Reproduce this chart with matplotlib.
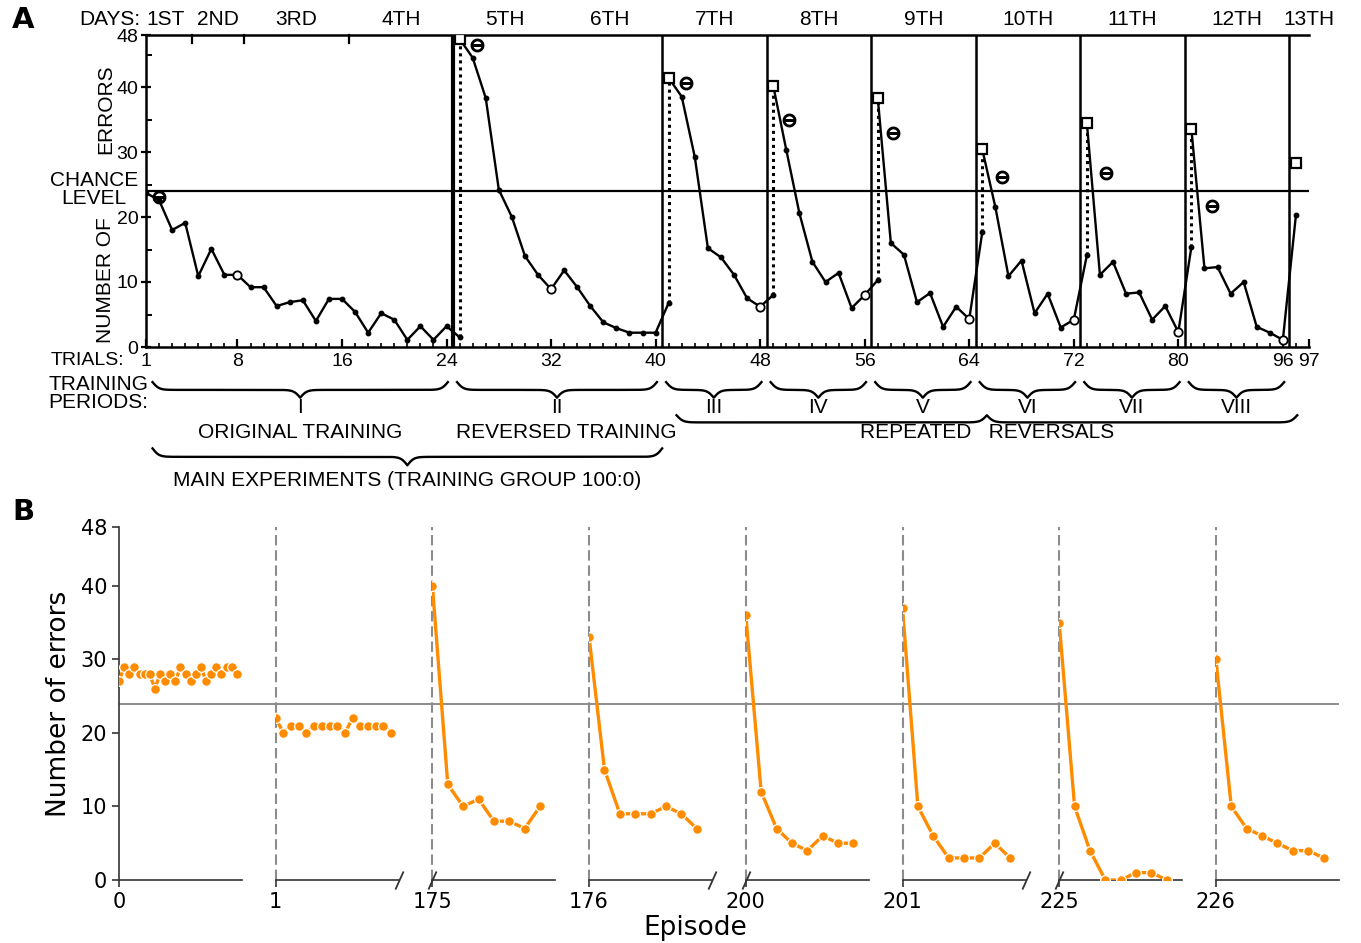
import numpy as np
import matplotlib
matplotlib.use("Agg")
import matplotlib.pyplot as plt

# ---------------- panel A: original rat data ----------------
days = ["1ST", "2ND", "3RD", "4TH", "5TH", "6TH", "7TH", "8TH", "9TH",
        "10TH", "11TH", "12TH", "13TH"]
day_first = [1, 5, 9, 17, 25, 33, 41, 49, 57, 65, 73, 81, 89]
day_last = [4, 8, 16, 24, 32, 40, 48, 56, 64, 72, 80, 88, 91]
trial_ticks = [1, 8, 16, 24, 32, 40, 48, 56, 64, 72, 80, 88, 90]
trial_labels = ["1", "8", "16", "24", "32", "40", "48", "56", "64", "72", "80", "96", "97"]

period_names = ["I", "II", "III", "IV", "V", "VI", "VII", "VIII"]
period_start = [1, 25, 41, 49, 57, 65, 73, 81]
period_end = [24, 40, 48, 56, 64, 72, 80, 88]

errors_I = [23.7, 22.6, 18.0, 19.1, 10.9, 15.1, 11.1, 11.1, 9.2, 9.2, 6.3, 6.9,
            7.2, 4.0, 7.4, 7.4, 5.4, 2.2, 5.2, 4.2, 1.1, 3.2, 1.1, 3.2]
errors_II = [47.4, 44.5, 38.3, 24.2, 20.0, 14.0, 11.1, 8.9, 11.8, 9.2, 6.3, 3.8,
             2.9, 2.2, 2.2, 2.2]
errors_III = [41.4, 38.5, 29.2, 15.2, 13.8, 11.1, 7.5, 6.2]
errors_IV = [40.2, 30.3, 20.6, 13.1, 10.0, 11.4, 6.0, 8.0]
errors_V = [38.3, 16.0, 14.2, 6.9, 8.3, 3.1, 6.2, 4.3]
errors_VI = [30.4, 21.5, 10.9, 13.3, 5.2, 8.2, 3.0, 4.2]
errors_VII = [34.5, 11.1, 13.1, 8.2, 8.4, 4.2, 6.3, 2.3]
errors_VIII = [33.5, 12.1, 12.3, 8.2, 10.0, 3.1, 2.2, 1.1]
period_errors = [errors_I, errors_II, errors_III, errors_IV, errors_V,
                 errors_VI, errors_VII, errors_VIII]

# first trial of each reversal: old-habit value (low) and first reversed trial (square)
switch_trial = [25, 41, 49, 57, 65, 73, 81, 89]
switch_low = [1.5, 6.8, 8.0, 10.3, 17.7, 14.1, 15.4, 20.3]
last_square = 28.3

circle_trials = [2, 26.3, 42.3, 50.2, 58.2, 66.5, 74.5, 82.6]
circle_errors = [23.1, 46.5, 40.6, 34.9, 32.9, 26.2, 26.8, 21.7]
ring_trials = [8, 32, 48, 56, 64, 72, 80, 88]

chance = 24

# ---------------- panel B: model episodes ----------------
episode_labels = ["0", "1", "175", "176", "200", "201", "225", "226"]
errors_ep0 = [27, 29, 28, 29, 28, 28, 28, 26, 28, 27, 28, 27, 29, 28, 27, 28,
              29, 27, 28, 29, 28, 29, 29, 28]
errors_ep1 = [22, 20, 21, 21, 20, 21, 21, 21, 21, 20, 22, 21, 21, 21, 21, 20]
errors_ep175 = [40, 13, 10, 11, 8, 8, 7, 10]
errors_ep176 = [33, 15, 9, 9, 9, 10, 9, 7]
errors_ep200 = [36, 12, 7, 5, 4, 6, 5, 5]
errors_ep201 = [37, 10, 6, 3, 3, 3, 5, 3]
errors_ep225 = [35, 10, 4, 0, 0, 1, 1, 0]
errors_ep226 = [30, 10, 7, 6, 5, 4, 4, 3]
episode_errors = [errors_ep0, errors_ep1, errors_ep175, errors_ep176,
                  errors_ep200, errors_ep201, errors_ep225, errors_ep226]

W, H = 1361, 943
fig = plt.figure(figsize=(W / 100, H / 100), dpi=100)


def box(x0, y0, x1, y1):
    # pixel box (top-left origin) -> figure fraction rect
    return [x0 / W, 1 - y1 / H, (x1 - x0) / W, (y1 - y0) / H]


def brace(ax, x0, x1, y, ends=1.2, tip=-1.2, w=0.25, lw=1.7):
    xm = (x0 + x1) / 2
    xh = np.linspace(x0, xm, 200)
    yh = (y + ends * (1 - 2 * (1 / (1 + np.exp(-(xh - x0) / w)) - 0.5))
          + tip * 2 / (1 + np.exp(-(xh - xm) / w)))
    xs = np.concatenate([xh, 2 * xm - xh[::-1]])
    ys = np.concatenate([yh, yh[::-1]])
    ax.plot(xs, ys, color="black", lw=lw, clip_on=False)


# ================= panel A =================
scan_font = "Liberation Sans"
axA = fig.add_axes(box(146, 35, 1309, 347))
axA.set_xlim(1, 90)
axA.set_ylim(0, 48)
axA.spines["right"].set_visible(False)
for s in ["left", "bottom", "top"]:
    axA.spines[s].set_linewidth(1.8)

axA.axhline(chance, color="black", lw=1.6)
for k, t in enumerate(switch_trial):
    axA.axvline(t - 0.5, color="black", lw=3 if k == 0 else 1.8)

for k in range(len(period_start)):
    xs = list(range(period_start[k], period_end[k] + 1)) + [switch_trial[k]]
    ys = period_errors[k] + [switch_low[k]]
    axA.plot(xs, ys, color="black", lw=1.7, marker="o", ms=3.2, zorder=3)
    if k + 1 < len(period_errors):
        top = period_errors[k + 1][0]
        axA.plot([switch_trial[k], switch_trial[k]], [switch_low[k], top],
                 color="black", lw=2.2, ls=(0, (1, 1.3)), zorder=3)
        axA.plot(switch_trial[k], top, marker="s", ms=6.5, mfc="white",
                 mec="black", mew=1.6, zorder=4)
axA.plot(switch_trial[-1], last_square, marker="s", ms=6.5, mfc="white",
         mec="black", mew=1.6, zorder=4)

all_t = np.concatenate([np.arange(a, b + 1) for a, b in zip(period_start, period_end)])
all_e = np.concatenate(period_errors)
ring_e = [all_e[list(all_t).index(t)] for t in ring_trials]
axA.plot(ring_trials, ring_e, ls="none", marker="o", ms=6, mfc="white",
         mec="black", mew=1.3, zorder=4)
axA.plot(circle_trials, circle_errors, ls="none", marker=r"$\ominus$", ms=9,
         color="black", zorder=4)

axA.set_yticks([0, 10, 20, 30, 40, 48])
axA.set_yticks([5, 15, 25, 35, 45], minor=True)
axA.set_xticks(trial_ticks)
axA.set_xticklabels(trial_labels)
axA.set_xticks(np.arange(1, 91), minor=True)
axA.tick_params(axis="y", which="major", direction="inout", length=7, width=1.6,
                labelsize=14, pad=2)
axA.tick_params(axis="y", which="minor", direction="in", length=4, width=1.4)
axA.tick_params(axis="x", which="major", direction="in", length=6, width=1.6,
                labelsize=14, pad=4)
axA.tick_params(axis="x", which="minor", direction="in", length=3, width=1.2)
for lab in axA.get_xticklabels() + axA.get_yticklabels():
    lab.set_fontfamily(scan_font)

tk = dict(color="black", clip_on=False, lw=1.6)
for t in [4.5, 8.5, 16.5]:
    axA.plot([t, t], [48, 46.8], **tk)

txt = dict(fontfamily=scan_font, fontsize=15, color="black")
axA.text(0.55, 50.4, "DAYS:", ha="right", va="center", **txt)
for name, a, b in zip(days, day_first, day_last):
    axA.text((a + b) / 2, 50.4, name, ha="center", va="center", **txt)

axA.text(-3.0, 24.2, "CHANCE\nLEVEL", ha="center", va="center",
         linespacing=0.95, **txt)
axA.text(-2.1, 10.3, "NUMBER OF", rotation=90, ha="center", va="center", **txt)
axA.text(-2.1, 36.6, "ERRORS", rotation=90, ha="center", va="center", **txt)
axA.text(-0.7, -2.1, "TRIALS:", ha="right", va="center",
         fontfamily=scan_font, fontsize=14)
axA.text(1.15, -7.2, "TRAINING\nPERIODS:", ha="right", va="center",
         linespacing=0.95, **txt)

for k, name in enumerate(period_names):
    lo = max(period_start[k] - 0.2, 1.5)
    hi = period_end[k] + 0.1
    brace(axA, lo, hi, -6.6)
    axA.text((lo + hi) / 2, -9.3, name, ha="center", va="center", **txt)

lo1, hi1 = 1.5, period_end[0] + 0.1
lo2, hi2 = period_start[1] - 0.2, period_end[1] + 0.1
axA.text((lo1 + hi1) / 2, -13.1, "ORIGINAL TRAINING", ha="center", va="center", **txt)
axA.text((lo2 + hi2) / 2 + 0.7, -13.1, "REVERSED TRAINING", ha="center", va="center", **txt)

rlo, rhi = period_start[2] + 0.6, period_end[-1] + 1.1
brace(axA, rlo, rhi, -11.6, ends=1.1, tip=1.1)
axA.text((rlo + rhi) / 2, -13.1, "REPEATED   REVERSALS", ha="center", va="center", **txt)

mlo, mhi = 1.5, period_end[1] + 0.5
brace(axA, mlo, mhi, -16.9, ends=1.3, tip=-1.3)
axA.text((mlo + mhi) / 2, -20.5, "MAIN EXPERIMENTS (TRAINING GROUP 100:0)",
         ha="center", va="center", **txt)

# ================= panel B =================
orange = "#ff8c00"
spine_c = "#333333"
seg_left0, seg_step, seg_w = 119, 156.7, 123
b_top, b_bot = 527, 880

ax_bg = fig.add_axes(box(seg_left0, b_top, seg_left0 + 7 * seg_step + seg_w, b_bot))
ax_bg.set_xlim(0, 1)
ax_bg.set_ylim(0, 48)
ax_bg.axis("off")
ax_bg.axhline(chance, color="#8c8c8c", lw=1.4)

seg_axes = []
for i, (lab, vals) in enumerate(zip(episode_labels, episode_errors)):
    x0 = seg_left0 + i * seg_step
    ax = fig.add_axes(box(x0, b_top, x0 + seg_w, b_bot))
    ax.patch.set_alpha(0)
    ax.plot(np.arange(len(vals)), vals, color=orange, lw=2.4, marker="o",
            ms=7, mec="white", mew=0.9, zorder=3)
    ax.set_xlim(0, len(vals))
    ax.set_ylim(0, 48)
    ax.set_xticks([0])
    ax.set_xticklabels([lab])
    ax.spines["top"].set_visible(False)
    ax.spines["right"].set_visible(False)
    ax.spines["bottom"].set_color(spine_c)
    ax.spines["bottom"].set_linewidth(1.2)
    ax.tick_params(axis="x", labelsize=15, length=5, width=1.2, color=spine_c, pad=4)
    if i == 0:
        ax.spines["left"].set_color(spine_c)
        ax.spines["left"].set_linewidth(1.2)
        ax.set_yticks([0, 10, 20, 30, 40, 48])
        ax.tick_params(axis="y", labelsize=15, length=5, width=1.2, color=spine_c)
        ax.set_ylabel("Number of errors", fontsize=19, labelpad=6)
    else:
        ax.spines["left"].set_visible(False)
        ax.tick_params(axis="y", left=False, labelleft=False)
        ax.axvline(0, color="#8c8c8c", lw=1.5, ls=(0, (5, 2.3)), clip_on=False,
                   zorder=1)
    seg_axes.append(ax)

# break marks between non-consecutive episodes
brk = dict(marker=[(-0.45, -1), (0.45, 1)], ms=13, mec=spine_c, mew=1.3,
           ls="none", clip_on=False)
for i in range(len(episode_labels) - 1):
    if int(episode_labels[i + 1]) - int(episode_labels[i]) > 1:
        seg_axes[i].plot([1], [0], transform=seg_axes[i].transAxes, **brk)
        seg_axes[i + 1].plot([0], [0], transform=seg_axes[i + 1].transAxes, **brk)

fig.text(695 / W, 1 - 928 / H, "Episode", fontsize=19, ha="center", va="center")

fig.text(12 / W, 1 - 6 / H, "A", fontsize=21, fontweight="bold", ha="left", va="top")
fig.text(12 / W, 1 - 498 / H, "B", fontsize=21, fontweight="bold", ha="left", va="top")

fig.savefig("out.png", dpi=100)
